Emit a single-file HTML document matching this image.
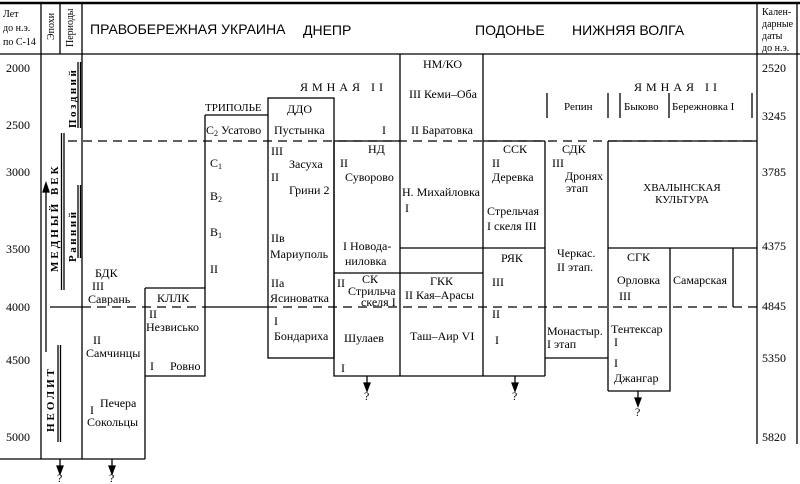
<!DOCTYPE html>
<html><head><meta charset="utf-8"><style>
html,body{margin:0;padding:0;background:#fff;}
svg{display:block;}
text{font-family:"Liberation Serif",serif;font-size:12px;fill:#000;}
.s{font-size:10px;}
.h{font-family:"Liberation Sans",sans-serif;font-size:14px;}
</style></head><body>
<svg width="800" height="484" viewBox="0 0 800 484" xmlns="http://www.w3.org/2000/svg">
<g stroke="#000" fill="none" stroke-width="1.3">
<line x1="0" y1="3" x2="800" y2="3" stroke-width="2.5"/>
<line x1="0" y1="54" x2="800" y2="54"/>
<line x1="41" y1="3" x2="41" y2="459"/>
<line x1="60" y1="3" x2="60" y2="54"/>
<line x1="82" y1="3" x2="82" y2="459"/>
<line x1="757" y1="3" x2="757" y2="444"/>
<line x1="797" y1="3" x2="797" y2="444"/>
<line x1="0" y1="459" x2="145" y2="459"/>
<line x1="46" y1="190" x2="46" y2="352"/>
<polygon points="46,183 43,192 49,192" fill="#000"/>
<line x1="61.5" y1="133" x2="61.5" y2="290"/><line x1="64" y1="133" x2="64" y2="290"/>
<line x1="78" y1="62" x2="78" y2="128"/><line x1="80.5" y1="62" x2="80.5" y2="128"/>
<line x1="78" y1="185" x2="78" y2="258"/><line x1="80.5" y1="185" x2="80.5" y2="258"/>
<line x1="58" y1="345" x2="58" y2="442"/><line x1="60.5" y1="345" x2="60.5" y2="442"/>
<line x1="68" y1="141" x2="757" y2="141" stroke-dasharray="9,6"/>
<line x1="334" y1="141" x2="400" y2="141"/>
<line x1="483" y1="141" x2="545" y2="141"/>
<line x1="608" y1="141" x2="757" y2="141"/>
<line x1="50" y1="307" x2="82" y2="307"/>
<line x1="82" y1="307" x2="205" y2="307" stroke-dasharray="9,6"/>
<line x1="205" y1="307" x2="268" y2="307"/>
<line x1="268" y1="307" x2="757" y2="307" stroke-dasharray="9,6"/>
<line x1="145" y1="288" x2="145" y2="459"/>
<polyline points="145,288 205,288 205,376 145,376"/>
<line x1="205" y1="115" x2="205" y2="288"/>
<line x1="205" y1="115" x2="268" y2="115"/>
<rect x="268" y="98" width="66" height="260"/>
<polyline points="334,141 334,376 400,376"/>
<line x1="334" y1="273" x2="483" y2="273"/>
<line x1="400" y1="54" x2="400" y2="376"/>
<line x1="483" y1="54" x2="483" y2="376"/>
<line x1="400" y1="376" x2="545" y2="376"/>
<line x1="400" y1="248" x2="483" y2="248"/>
<line x1="545" y1="141" x2="545" y2="376"/>
<line x1="483" y1="248" x2="545" y2="248"/>
<line x1="545" y1="358" x2="608" y2="358"/>
<line x1="608" y1="141" x2="608" y2="391"/>
<line x1="608" y1="248" x2="757" y2="248"/>
<polyline points="608,391 670,391 670,248"/>
<line x1="733" y1="248" x2="733" y2="307"/>
<line x1="547" y1="93" x2="547" y2="118"/>
<line x1="608" y1="93" x2="608" y2="118"/>
<line x1="620" y1="93" x2="620" y2="118"/>
<line x1="669" y1="93" x2="669" y2="118"/>
<line x1="752" y1="93" x2="752" y2="118"/>
<line x1="60" y1="459" x2="60" y2="470"/><polygon points="60,474 57,466 63,466" fill="#000"/>
<line x1="112" y1="459" x2="112" y2="470"/><polygon points="112,474 109,466 115,466" fill="#000"/>
<line x1="367" y1="376" x2="367" y2="387"/><polygon points="367,391 364,383 370,383" fill="#000"/>
<line x1="515" y1="376" x2="515" y2="387"/><polygon points="515,391 512,383 518,383" fill="#000"/>
<line x1="638" y1="391" x2="638" y2="402"/><polygon points="638,406 635,398 641,398" fill="#000"/>
</g>
<text class="s" x="3" y="17">Лет</text>
<text class="s" x="3" y="31">до н.э.</text>
<text class="s" x="3" y="45">по С-14</text>
<text class="s" transform="translate(54,40) rotate(-90)">Эпохи</text>
<text class="s" transform="translate(73,47) rotate(-90)">Периоды</text>
<text class="h" x="90" y="34">ПРАВОБЕРЕЖНАЯ УКРАИНА</text>
<text class="h" x="303" y="35">ДНЕПР</text>
<text class="h" x="475" y="35">ПОДОНЬЕ</text>
<text class="h" x="572" y="35">НИЖНЯЯ ВОЛГА</text>
<text class="s" x="762" y="15">Кален-</text>
<text class="s" x="762" y="27">дарные</text>
<text class="s" x="762" y="39">даты</text>
<text class="s" x="762" y="51">до н.э.</text>
<text x="6" y="72">2000</text><text x="6" y="129">2500</text><text x="6" y="176">3000</text>
<text x="6" y="253">3500</text><text x="6" y="311">4000</text><text x="6" y="364">4500</text><text x="6" y="441">5000</text>
<text x="762" y="72">2520</text><text x="762" y="120">3245</text><text x="762" y="176">3785</text>
<text x="762" y="250">4375</text><text x="762" y="310">4845</text><text x="762" y="362">5350</text><text x="762" y="441">5820</text>
<text style="font-size:11px;font-weight:bold;letter-spacing:3px" transform="translate(58,272) rotate(-90)">МЕДНЫЙ ВЕК</text>
<text style="font-size:11px;font-weight:bold;letter-spacing:2.5px" transform="translate(76,128) rotate(-90)">Поздний</text>
<text style="font-size:11px;font-weight:bold;letter-spacing:2.5px" transform="translate(76,262) rotate(-90)">Ранний</text>
<text style="font-size:11px;font-weight:bold;letter-spacing:3px" transform="translate(54,432) rotate(-90)">НЕОЛИТ</text>
<text x="57" y="482">?</text><text x="109" y="482">?</text>
<text x="95" y="277">БДК</text><text x="92" y="290">III</text><text x="88" y="303">Саврань</text>
<text x="93" y="344">II</text><text x="86" y="357">Самчинцы</text>
<text x="100" y="407">Печера</text><text x="90" y="414">I</text><text x="87" y="426">Сокольцы</text>
<text x="157" y="302">КЛЛК</text><text x="149" y="318">II</text><text x="146" y="331">Незвисько</text>
<text x="150" y="370">I</text><text x="170" y="370">Ровно</text>
<text x="300" y="91" style="letter-spacing:4px">ЯМНАЯ II</text>
<text x="205" y="111" style="font-size:11px">ТРИПОЛЬЕ</text>
<text x="206" y="134">C<tspan style="font-size:8px" dy="2">2</tspan><tspan dy="-2"> Усатово</tspan></text>
<text x="210" y="167">C<tspan style="font-size:8px" dy="2">1</tspan></text>
<text x="210" y="200">B<tspan style="font-size:8px" dy="2">2</tspan></text>
<text x="210" y="236">B<tspan style="font-size:8px" dy="2">1</tspan></text>
<text x="210" y="273">II</text>
<text x="287" y="113">ДДО</text><text x="274" y="134">Пустынка</text>
<text x="271" y="155">III</text><text x="289" y="168">Засуха</text>
<text x="271" y="181">II</text><text x="289" y="194">Грини 2</text>
<text x="271" y="242">IIв</text><text x="270" y="258">Мариуполь</text>
<text x="271" y="287">IIa</text><text x="270" y="302">Ясиноватка</text>
<text x="274" y="325">I</text><text x="274" y="340">Бондариха</text>
<text x="382" y="134">I</text><text x="368" y="153">НД</text>
<text x="340" y="167">II</text><text x="345" y="181">Суворово</text>
<text x="343" y="250">I Новода-</text><text x="345" y="265">ниловка</text>
<text x="337" y="287">II</text><text x="362" y="283">СК</text>
<text x="348" y="295">Стрильча</text><text x="361" y="306">скеля I</text>
<text x="344" y="342">Шулаев</text><text x="341" y="372">I</text>
<text x="364" y="400">?</text>
<text x="423" y="68">НМ/КО</text><text x="409" y="98">III Кеми–Оба</text>
<text x="411" y="134">II Баратовка</text>
<text x="402" y="196">Н. Михайловка</text><text x="405" y="212">I</text>
<text x="430" y="285">ГКК</text><text x="405" y="299">II Кая–Арасы</text>
<text x="410" y="340">Таш–Аир VI</text>
<text x="503" y="153">ССК</text><text x="492" y="167">II</text><text x="492" y="181">Деревка</text>
<text x="487" y="215">Стрельчая</text><text x="487" y="230">I скеля III</text>
<text x="501" y="262">РЯК</text><text x="492" y="286">III</text>
<text x="492" y="318">II</text><text x="495" y="344">I</text>
<text x="512" y="400">?</text>
<text x="634" y="91" style="letter-spacing:4px">ЯМНАЯ II</text>
<text x="564" y="110" style="font-size:11px">Репин</text>
<text x="624" y="110" style="font-size:11px">Быково</text>
<text x="672" y="110" style="font-size:11px">Бережновка I</text>
<text x="562" y="153">СДК</text><text x="552" y="167">III</text>
<text x="565" y="180">Дронях</text><text x="566" y="192">этап</text>
<text x="557" y="257">Черкас.</text><text x="557" y="271">II этап.</text>
<text x="547" y="335">Монастыр.</text><text x="547" y="348">I этап</text>
<text x="682" y="191" text-anchor="middle" style="font-size:11px">ХВАЛЫНСКАЯ</text>
<text x="682" y="203" text-anchor="middle" style="font-size:11px">КУЛЬТУРА</text>
<text x="627" y="261">СГК</text><text x="617" y="284">Орловка</text><text x="619" y="300">III</text>
<text x="611" y="333">Тентексар</text><text x="614" y="346">I</text>
<text x="614" y="367">I</text><text x="614" y="382">Джангар</text>
<text x="635" y="416">?</text>
<text x="673" y="284">Самарская</text>
</svg>
</body></html>
